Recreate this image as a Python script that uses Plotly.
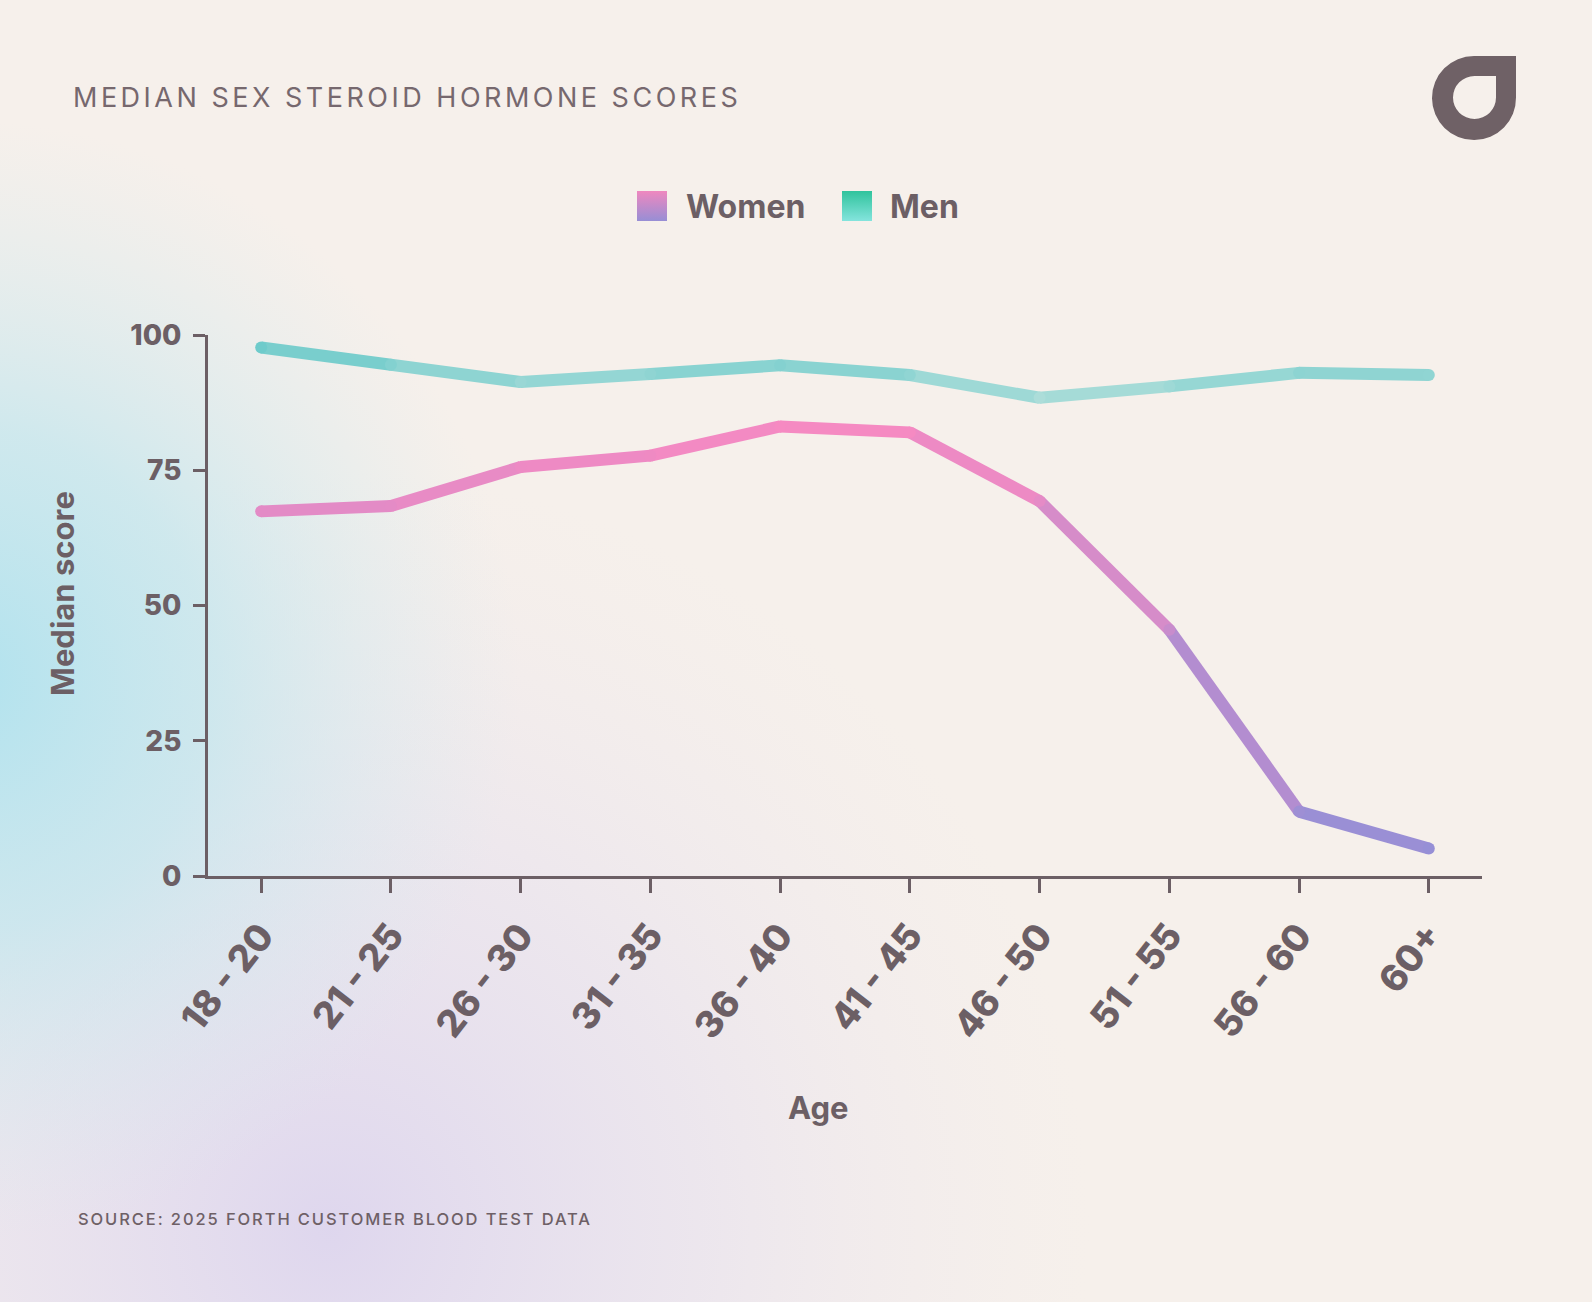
import base64
import plotly.graph_objects as go

# ---------------- data ----------------
age_groups = ["18 - 20", "21 - 25", "26 - 30", "31 - 35", "36 - 40",
              "41 - 45", "46 - 50", "51 - 55", "56 - 60", "60+"]
women = [67.4, 68.4, 75.6, 77.7, 83.1, 82.0, 69.3, 45.5, 11.9, 5.1]
men = [97.7, 94.5, 91.3, 92.8, 94.4, 92.6, 88.4, 90.5, 93.0, 92.6]
y_ticks = [0, 25, 50, 75, 100]

title_text = "MEDIAN SEX STEROID HORMONE SCORES"
source_text = "SOURCE: 2025 FORTH CUSTOMER BLOOD TEST DATA"
x_title = "Age"
y_title = "Median score"

# ---------------- layout geometry ----------------
W, H = 1592, 1302
PL, PR, PT, PB = 208, 1482, 335, 876
INK = "#6c5f65"


def px(x):
    return (x - PL) / (PR - PL)


def py(y):
    return (PB - y) / (PB - PT)


def hex2rgb(h):
    h = h.lstrip("#")
    return tuple(int(h[i:i + 2], 16) for i in (0, 2, 4))


def lerp(c1, c2, t):
    a, b = hex2rgb(c1), hex2rgb(c2)
    t = max(0.0, min(1.0, t))
    return "rgb(%d,%d,%d)" % tuple(round(a[i] + (b[i] - a[i]) * t) for i in range(3))


series = [
    ("Men", men, "#acddd9", "#6ecbcb"),
    ("Women", women, "#968fd6", "#f68ac2"),
]

fig = go.Figure()
LW = 12
for name, vals, lo, hi in series:
    vmin, vmax = min(vals), max(vals)
    for i in range(len(vals) - 1):
        t = ((vals[i] + vals[i + 1]) / 2 - vmin) / (vmax - vmin)
        fig.add_trace(go.Scatter(
            x=age_groups[i:i + 2], y=vals[i:i + 2], mode="lines",
            line=dict(color=lerp(lo, hi, t), width=LW),
            showlegend=False, hoverinfo="skip"))
    fig.add_trace(go.Scatter(
        x=age_groups, y=vals, mode="markers", name=name,
        marker=dict(size=LW, color=[lerp(lo, hi, (v - vmin) / (vmax - vmin)) for v in vals],
                    line=dict(width=0)),
        showlegend=False))

# ---------------- background, logo, legend swatches (decoration) ----------------
svg = f"""<svg xmlns='http://www.w3.org/2000/svg' width='{W}' height='{H}' viewBox='0 0 {W} {H}' preserveAspectRatio='none'>
<defs>
<radialGradient id='c' cx='-40' cy='680' r='560' gradientUnits='userSpaceOnUse'>
<stop offset='0' stop-color='#b0e2ee' stop-opacity='1'/>
<stop offset='0.45' stop-color='#c2e6ee' stop-opacity='0.75'/>
<stop offset='1' stop-color='#d8eaef' stop-opacity='0'/>
</radialGradient>
<radialGradient id='l' cx='330' cy='1230' r='760' gradientUnits='userSpaceOnUse'>
<stop offset='0' stop-color='#ddd5ee' stop-opacity='0.95'/>
<stop offset='0.5' stop-color='#e6e0ef' stop-opacity='0.6'/>
<stop offset='1' stop-color='#efe9ee' stop-opacity='0'/>
</radialGradient>
<linearGradient id='gw' x1='0' y1='0' x2='0' y2='1'>
<stop offset='0' stop-color='#ef88bf'/><stop offset='1' stop-color='#978ed5'/>
</linearGradient>
<linearGradient id='gm' x1='0' y1='0' x2='0' y2='1'>
<stop offset='0' stop-color='#30c39c'/><stop offset='1' stop-color='#84e4dd'/>
</linearGradient>
</defs>
<rect width='{W}' height='{H}' fill='#f6f0eb'/>
<rect width='{W}' height='{H}' fill='url(#l)'/>
<rect width='{W}' height='{H}' fill='url(#c)'/>
<path fill='#6f6166' fill-rule='evenodd' d='M1474 56 L1516 56 L1516 97.5 A42 42 0 1 1 1474 56 Z M1474.5 76 L1496 76 L1496 97.5 A21.5 21.5 0 1 1 1474.5 76 Z'/>
<rect x='637' y='191' width='30' height='30' fill='url(#gw)'/>
<rect x='842' y='191' width='30' height='30' fill='url(#gm)'/>
</svg>"""
uri = "data:image/svg+xml;base64," + base64.b64encode(svg.encode()).decode()

fig.add_layout_image(dict(
    source=uri, xref="paper", yref="paper", x=px(0), y=py(0),
    sizex=W / (PR - PL), sizey=H / (PB - PT), xanchor="left", yanchor="top",
    sizing="stretch", layer="below"))

# ---------------- text ----------------
fig.add_annotation(
    x=px(71), y=py(97), xref="paper", yref="paper", xanchor="left", yanchor="middle",
    showarrow=False,
    text=f"<span style='letter-spacing:3.5px'>{title_text}</span>",
    font=dict(family="Inter", size=27, color="#76686e", weight=400))
fig.add_annotation(
    x=px(76), y=py(1219), xref="paper", yref="paper", xanchor="left", yanchor="middle",
    showarrow=False,
    text=f"<span style='letter-spacing:1.9px'>{source_text}</span>",
    font=dict(family="Inter", size=16.5, color="#6e6066", weight=500))
for label, xpix in (("Women", 684), ("Men", 888)):
    fig.add_annotation(
        x=px(xpix), y=py(206), xref="paper", yref="paper", xanchor="left", yanchor="middle",
        showarrow=False, text=label,
        font=dict(family="Inter", size=32, color=INK, weight=700))
# axis titles
fig.add_annotation(
    x=px(818), y=py(1107), xref="paper", yref="paper", xanchor="center", yanchor="middle",
    showarrow=False, text=x_title,
    font=dict(family="Inter", size=31, color=INK, weight=700))
fig.add_annotation(
    x=px(62), y=py(594), xref="paper", yref="paper", xanchor="center", yanchor="middle",
    showarrow=False, text=y_title, textangle=-90,
    font=dict(family="Inter", size=31, color=INK, weight=700))

fig.update_layout(
    width=W, height=H,
    margin=dict(l=PL, r=W - PR, t=PT, b=H - PB, pad=0),
    paper_bgcolor="#f6f0eb", plot_bgcolor="rgba(0,0,0,0)",
    showlegend=False,
    font=dict(family="Inter", color=INK),
)
fig.update_xaxes(
    type="category", categoryorder="array", categoryarray=age_groups,
    range=[-0.41, len(age_groups) - 1 + 0.41],
    showgrid=False, zeroline=False,
    showline=True, linecolor=INK, linewidth=3,
    ticks="outside", ticklen=14, tickwidth=2.5, tickcolor=INK,
    tickangle=-52, ticklabelstandoff=6,
    tickfont=dict(family="Inter", size=37, color=INK, weight=800),
    automargin=False,
)
fig.update_yaxes(
    range=[0, 100], tickvals=y_ticks,
    showgrid=False, zeroline=False,
    showline=True, linecolor=INK, linewidth=3,
    ticks="outside", ticklen=12, tickwidth=2.5, tickcolor=INK,
    ticklabelstandoff=6,
    tickfont=dict(family="Inter", size=28, color=INK, weight=800),
    automargin=False,
)

fig.write_html("out.html")
